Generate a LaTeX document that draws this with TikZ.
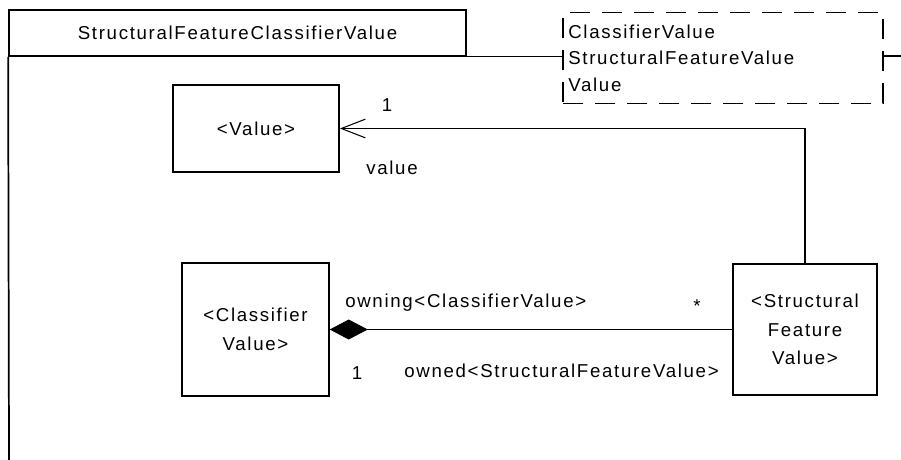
\documentclass[tikz,border=0pt]{standalone}
\usepackage{fontspec}
\setmainfont{Liberation Sans}[LetterSpace=9]
\usepackage{tikz}
\usetikzlibrary{arrows.meta}

\begin{document}
\begin{tikzpicture}[x=0.75pt,y=-0.75pt,
    font=\fontsize{14}{20}\selectfont,
    cls/.style={draw,line width=1.3pt,inner sep=0pt,align=center,font=\fontsize{14}{21.5}\selectfont},
    conn/.style={line width=0.8pt}]
  \useasboundingbox (0,0) rectangle (901,460);
  % package frame and its tab
  \node[cls,minimum width=342.75pt,minimum height=34.5pt] (tab) at (237.5,33) {StructuralFeatureClassifierValue};
  \node[draw,dashed,dash pattern=on 15pt off 9pt,line width=0.9pt,minimum width=240pt,minimum height=68pt,
        text width=232pt,inner sep=4pt,align=left] (keys) at (723,58)
        {ClassifierValue\\StructuralFeatureValue\\Value};
  \coordinate (fbot) at (9,460);
  \coordinate (fright) at (901,56);
  \draw[line width=1.3pt] (tab.south west) -- (fbot);
  \draw[line width=0.8pt] (tab.south east) -- (tab.south east -| keys.west);
  \draw[line width=0.8pt] (keys.east |- fright) -- (fright);
  % classes
  \node[cls,minimum width=124.5pt,minimum height=65pt] (value) at (256,128.5) {<Value>};
  \node[cls,minimum width=110pt,minimum height=100pt] (cv) at (255.5,329.5) {<Classifier\\Value>};
  \node[cls,minimum width=108pt,minimum height=98pt] (sfv) at (805,329.5) {<Structural\\Feature\\Value>};
  % associations
  \draw[conn,-{Straight Barb[length=18pt,width=14pt]}] (sfv.north) |- (value.east);
  \node (v1) at (387,105) {1};
  \node (vname) at (392,168) {value};
  \draw[conn,{Diamond[length=28.5pt,width=15pt,fill=black]}-] (cv.east) -- (sfv.west);
  \node[anchor=west,inner sep=0pt] (owning) at (345,303) {owning<ClassifierValue>};
  \node (star) at (697,306) {*};
  \node (one) at (357,373) {1};
  \node[anchor=east,inner sep=0pt] (owned) at (719,371) {owned<StructuralFeatureValue>};
\end{tikzpicture}
\end{document}
